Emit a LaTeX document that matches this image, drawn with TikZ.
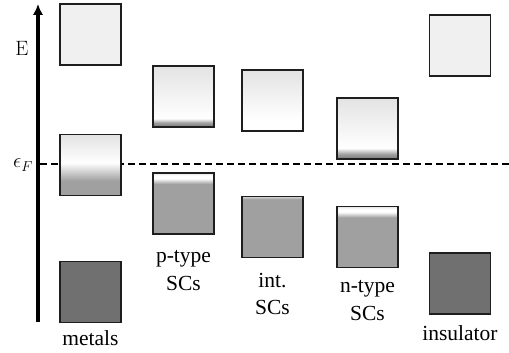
\documentclass[tikz,border=0pt]{standalone}
\usepackage[no-math]{fontspec}
\setmainfont{Liberation Serif}
\usetikzlibrary{arrows.meta}

\definecolor{bandtop}{HTML}{E3E3E3}
\definecolor{lightface}{HTML}{F0F0F0}
\definecolor{midgray}{HTML}{A0A0A0}
\definecolor{darkband}{HTML}{828282}
\definecolor{deepgray}{HTML}{707070}
\definecolor{edgecol}{HTML}{1E1E1E}

% vertical shadings: the box occupies 25bp (bottom) .. 75bp (top)
\pgfdeclareverticalshading{metalmix}{100bp}{%
  color(0bp)=(midgray); color(37bp)=(midgray); color(52bp)=(white);
  color(75bp)=(bandtop); color(100bp)=(bandtop)}
\pgfdeclareverticalshading{holeband}{100bp}{%
  color(0bp)=(darkband); color(26bp)=(darkband); color(28.5bp)=(midgray);
  color(32bp)=(white); color(75bp)=(bandtop); color(100bp)=(bandtop)}
\pgfdeclareverticalshading{elecband}{100bp}{%
  color(0bp)=(darkband); color(26bp)=(darkband); color(29bp)=(midgray);
  color(34bp)=(white); color(75bp)=(bandtop); color(100bp)=(bandtop)}
\pgfdeclareverticalshading{emptycb}{100bp}{%
  color(0bp)=(white); color(34bp)=(white);
  color(75bp)=(bandtop); color(100bp)=(bandtop)}
\pgfdeclareverticalshading{toplight}{100bp}{%
  color(0bp)=(midgray); color(66bp)=(midgray); color(70.5bp)=(white);
  color(73bp)=(white); color(75bp)=(bandtop); color(100bp)=(bandtop)}
\pgfdeclareverticalshading{fullvb}{100bp}{%
  color(0bp)=(midgray); color(73bp)=(midgray); color(74.5bp)=(gray!35);
  color(100bp)=(gray!35)}

\begin{document}
\begin{tikzpicture}[x=1pt,y=-1pt,
  band/.style={draw=edgecol,line width=1.1pt,minimum width=61pt,
    minimum height=61pt,inner sep=0pt,outer sep=0pt},
  lbl/.style={anchor=base,inner sep=0pt,font=\fontsize{21.5}{26}\selectfont},
  mathlbl/.style={inner sep=0pt,font=\fontsize{20.74}{24}\selectfont}]
  \useasboundingbox (0,0) rectangle (509,353);

  % Fermi level
  \coordinate (fl0) at (40,164);
  \coordinate (fl1) at (509,164);
  \draw[line width=1.6pt,dash pattern=on 6.5pt off 4.5pt] (fl0) -- (fl1);

  % energy axis
  \coordinate (axbot) at (38,322);
  \coordinate (axtop) at (38,4);
  \draw[line width=3.2pt,-{Latex[length=11pt,width=10.5pt]}] (axbot) -- (axtop);
  \node[mathlbl] (elab) at (22,48) {$\mathrm{E}$};
  \node[mathlbl] (eflab) at (23,165) {$\epsilon_F$};

  % metals
  \node[band,fill=lightface] (mcb) at (90.5,34.5) {};
  \node[band,shading=metalmix] (mmid) at (90.5,165) {};
  \node[band,fill=deepgray] (mvb) at (90.5,292) {};
  \node[lbl] (mlab) at (90.5,345) {metals};

  % p-type semiconductors
  \node[band,shading=holeband] (pcb) at (183.5,96.5) {};
  \node[band,shading=toplight] (pvb) at (183.5,203.5) {};
  \node[lbl] (plab1) at (183.5,262) {p-type};
  \node[lbl] (plab2) at (183.5,290) {SCs};

  % intrinsic semiconductors
  \node[band,shading=emptycb] (icb) at (272.5,100.5) {};
  \node[band,shading=fullvb] (ivb) at (272.5,227) {};
  \node[lbl] (ilab1) at (272.5,287) {int.};
  \node[lbl] (ilab2) at (272.5,314) {SCs};

  % n-type semiconductors
  \node[band,shading=elecband] (ncb) at (367.5,128.5) {};
  \node[band,shading=toplight] (nvb) at (367.5,237) {};
  \node[lbl] (nlab1) at (367.5,292) {n-type};
  \node[lbl] (nlab2) at (367.5,320) {SCs};

  % insulator
  \node[band,fill=lightface] (icbx) at (460,45.5) {};
  \node[band,fill=deepgray] (ivbx) at (460,283.5) {};
  \node[lbl] (inslab) at (460,340) {insulator};
\end{tikzpicture}
\end{document}
